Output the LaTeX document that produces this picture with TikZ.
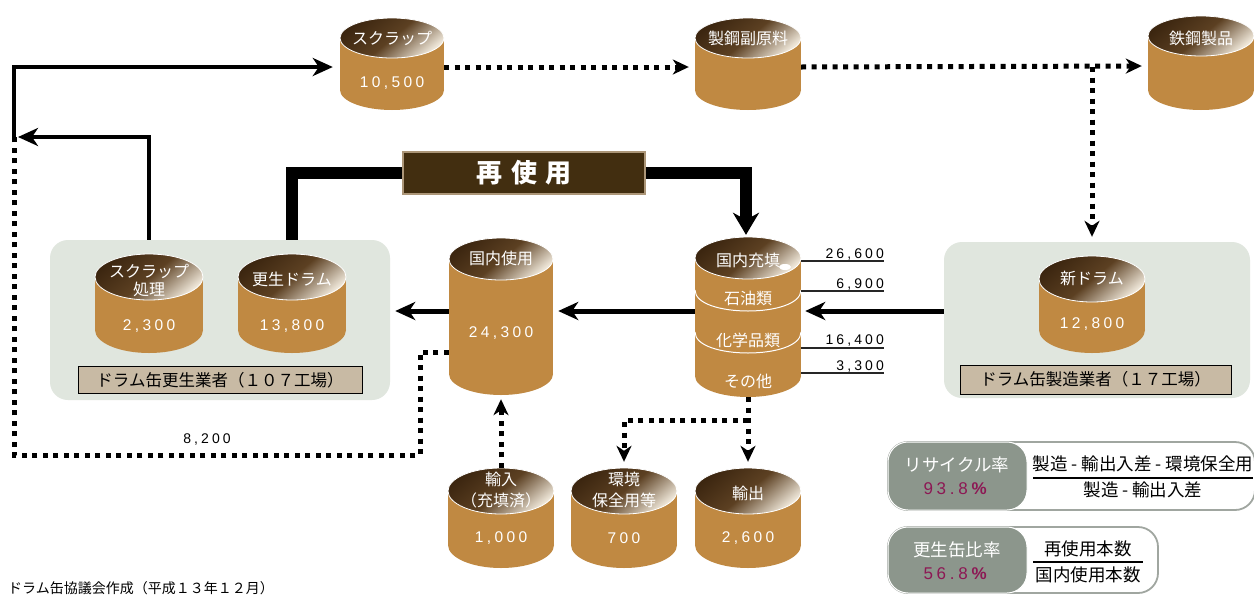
\documentclass[tikz,border=0pt]{standalone}
\usepackage{fontspec}
\setmainfont{Noto Sans CJK JP}
\newfontfamily\numf[LetterSpace=22]{Liberation Sans}
\usetikzlibrary{arrows.meta,calc}
\definecolor{drumbody}{RGB}{192,137,66}
\definecolor{topdark}{RGB}{60,38,16}
\definecolor{topmid}{RGB}{92,64,34}
\definecolor{toplight}{RGB}{238,230,216}
\definecolor{panelbg}{RGB}{224,230,222}
\definecolor{tanbox}{RGB}{200,186,164}
\definecolor{reusebg}{RGB}{66,46,16}
\definecolor{reuseedge}{RGB}{172,150,120}
\definecolor{greybox}{RGB}{140,150,140}
\definecolor{greyedge}{RGB}{160,166,160}
\definecolor{ratecol}{RGB}{140,24,84}
\tikzset{
  drumtopshade/.style={top color=topdark, bottom color=toplight, middle color=topmid, shading angle=40},
  dlbl/.style={text=white, font=\fontsize{16}{18}\selectfont, align=center, inner sep=0pt},
  dnum/.style={text=white, font=\numf\fontsize{15.5}{17}\selectfont, inner sep=0pt},
  anum/.style={text=black, font=\numf\fontsize{14}{16}\selectfont, inner sep=0pt},
  panel/.style={fill=panelbg, rounded corners=18pt, draw=none, inner sep=0pt},
  labelbox/.style={fill=tanbox, draw=black, line width=1pt, inner sep=0pt, font=\fontsize{16.5}{18}\selectfont},
  flow/.style={line width=5pt, -{Stealth[length=20pt,width=18pt,inset=6pt]}},
  flowthin/.style={line width=4.5pt, miter limit=10, -{Stealth[length=20pt,width=18pt,inset=6pt]}},
  solidline/.style={line width=4.5pt},
  dots/.style={line width=5pt, dash pattern=on 5pt off 5.5pt},
  dotarrow/.style={dots, -{Stealth[length=16pt,width=15pt,inset=5pt]}},
  reuseline/.style={line width=12pt},
  reusearrow/.style={line width=12pt, -{Stealth[length=22pt,width=26pt,inset=7pt]}},
  uline/.style={line width=1.2pt, draw=black!85},
  fbox/.style={fill=white, draw=greyedge, line width=1.8pt, rounded corners=20pt, inner sep=0pt},
  gbox/.style={fill=greybox, draw=white, line width=1pt, rounded corners=20pt, inner sep=0pt},
  gtext/.style={text=white, font=\fontsize{17.5}{19}\selectfont, inner sep=0pt},
  ratetext/.style={text=ratecol, font=\numf\fontsize{17}{19}\selectfont, inner sep=0pt},
  ftext/.style={text=black, font=\fontsize{17.5}{19}\selectfont, inner sep=0pt},
}
% #1 name, #2 cx, #3 top-centre y, #4 bottom-centre y, #5 rx, #6 ry
\newcommand\mydrum[6]{%
  \fill[drumbody] (#2-#5,#3) rectangle (#2+#5,#4);
  \fill[drumbody] (#2,#4) ellipse [x radius=#5pt, y radius=#6pt];
  \shade[drumtopshade] (#2,#3) ellipse [x radius=#5pt, y radius=#6pt];
  \draw[white, line width=0.8pt] (#2,#3) ellipse [x radius=#5pt, y radius=#6pt];
  \node[inner sep=0pt, minimum width={2*#5*1pt}, minimum height={(#4-#3+2*#6)*1pt}] (#1) at (#2,{(#3+#4)/2}) {};
}
\begin{document}
\begin{tikzpicture}[x=1pt,y=-1pt]
\useasboundingbox (0,0) rectangle (1254,595);
\fill[white] (0,0) rectangle (1254,595);

% panels
\node[panel, minimum width=340pt, minimum height=160pt] (kbox) at (220,320) {};
\node[panel, minimum width=306pt, minimum height=156pt] (mbox) at (1097,320) {};
\node[labelbox, minimum width=284pt, minimum height=27pt] (klbl) at (220,380) {ドラム缶更生業者（１０７工場）};
\node[labelbox, minimum width=271pt, minimum height=29pt] (mlbl) at (1095.5,379.5) {ドラム缶製造業者（１７工場）};

% drums
\mydrum{scrap}{392}{38}{90}{52}{20}
\mydrum{aux}{748}{38}{90}{53}{20}
\mydrum{steel}{1201}{36}{90}{53}{20}
\mydrum{sp}{149}{277}{330}{54}{23}
\mydrum{kd}{292}{277}{330}{54}{23}
\mydrum{dom}{501}{259}{374}{52}{21}
\mydrum{fill}{748}{258}{376}{53}{21}
\mydrum{new}{1092}{279}{330}{53}{23}
\mydrum{imp}{501}{491}{545}{53}{23}
\mydrum{env}{624}{491}{545}{53}{23}
\mydrum{exp}{748}{491}{545}{53}{23}

% dividers of the filling drum
\draw[white, line width=1pt] (695,290) .. controls (695,318) and (801,318) .. (801,290);
\draw[white, line width=1pt] (695,332) .. controls (695,360) and (801,360) .. (801,332);
\fill[white] (785,267) ellipse [x radius=6pt, y radius=3pt];

% drum labels
\node[dlbl] (tscrap) at (392,38) {スクラップ};
\node[dnum] (nscrap) at (392,83) {10,500};
\node[dlbl] (taux) at (748,38) {製鋼副原料};
\node[dlbl] (tsteel) at (1201,38) {鉄鋼製品};
\node[dlbl] (tsp) at (149,281) {スクラップ\\処理};
\node[dnum] (nsp) at (149,326) {2,300};
\node[dlbl] (tkd) at (292,279) {更生ドラム};
\node[dnum] (nkd) at (292,326) {13,800};
\node[dlbl] (tdom) at (501,258) {国内使用};
\node[dnum] (ndom) at (501,333) {24,300};
\node[dlbl] (tfill) at (748,260) {国内充填};
\node[dlbl] (toil) at (748,298) {石油類};
\node[dlbl] (tchem) at (748,340) {化学品類};
\node[dlbl] (toth) at (748,381) {その他};
\node[dlbl] (tnew) at (1092,278) {新ドラム};
\node[dnum] (nnew) at (1092,324) {12,800};
\node[dlbl] (timp) at (501,490) {輸入\\[3pt]（充填済）};
\node[dnum] (nimp) at (501,538) {1,000};
\node[dlbl] (tenv) at (624,490) {環境\\[3pt]保全用等};
\node[dnum] (nenv) at (624,538) {700};
\node[dlbl] (texp) at (748,493) {輸出};
\node[dnum] (nexp) at (748,538) {2,600};

% breakdown numbers
\node[anum, anchor=base east] (v1) at (884,258) {26,600};
\node[anum, anchor=base east] (v2) at (884,288) {6,900};
\node[anum, anchor=base east] (v3) at (884,344) {16,400};
\node[anum, anchor=base east] (v4) at (884,370) {3,300};
\coordinate (u1) at (884,261);
\coordinate (u2) at (884,291);
\coordinate (u3) at (884,348);
\coordinate (u4) at (884,373);
\draw[uline] (fill.east |- u1) -- (u1);
\draw[uline] (fill.east |- u2) -- (u2);
\draw[uline] (fill.east |- u3) -- (u3);
\draw[uline] (fill.east |- u4) -- (u4);

% main flow arrows
\coordinate (hflow) at (0,311);
\draw[flow] (mbox.west |- hflow) -- ($(fill.east |- hflow)+(4,0)$);
\draw[flow] (fill.west |- hflow) -- ($(dom.east |- hflow)+(5,0)$);
\draw[flow] (dom.west |- hflow) -- ($(kbox.east |- hflow)+(5,0)$);

% scrap loop
\coordinate (jn) at (14,137);
\draw[flowthin] (sp.north |- kbox.north) |- ($(jn)+(4,0)$);
\draw[flowthin] (jn) |- ($(scrap.west)+(-7,3)$);
\coordinate (d82) at (420,352);
\coordinate (c82) at (420,455);
\draw[dots] (dom.west |- d82) -- (d82) -- (c82) -- (c82 -| jn) -- (jn);
\node[anum] (l82) at (207,440) {8,200};

% top dotted flows
\draw[dotarrow] ($(scrap.east)+(0,3)$) -- ($(aux.west)+(-6,3)$);
\draw[dotarrow] ($(aux.east)+(0,3)$) -- ($(steel.west)+(-6,3)$);
\coordinate (br) at (1092,67);
\draw[dotarrow] (br) -- ($(br |- mbox.north)+(0,-5)$);

% bottom dotted flows
\draw[dotarrow] (imp.north) -- ($(dom.south)+(0,4)$);
\draw[dotarrow] (fill.south) -- ($(exp.north)+(0,-6)$);
\coordinate (br2) at (748,420);
\draw[dotarrow] (br2) -| ($(env.north)+(0,-6)$);

% reuse
\node[fill=reusebg, draw=reuseedge, line width=2pt, minimum width=242pt, minimum height=42pt, inner sep=0pt,
      text=white, font=\bfseries\fontsize{26}{28}\selectfont] (re) at (524,173) {再\hspace{9pt}使\hspace{9pt}用};
\draw[reuseline] (kd.north |- kbox.north) |- (re.west);
\draw[reusearrow] (re.east) -| ($(fill.north)+(-2,-2)$);

% rate boxes
\node[fbox, minimum width=367pt, minimum height=68pt] (f1) at (1071.5,476) {};
\node[gbox, minimum width=139pt, minimum height=68pt] (g1) at (957.5,476) {};
\node[gtext] (g1a) at (957,465) {リサイクル率};
\node[ratetext] (g1b) at (957,489) {93.8\textbf{\%}};
\node[ftext] (f1a) at (1143,464) {製造 - 輸出入差 - 環境保全用};
\node[ftext] (f1b) at (1143,490) {製造 - 輸出入差};
\draw[line width=1.5pt] (1033,478) -- (1253,478);

\node[fbox, minimum width=270pt, minimum height=66pt] (f2) at (1023,560) {};
\node[gbox, minimum width=139pt, minimum height=66pt] (g2) at (957.5,560) {};
\node[gtext] (g2a) at (957,550) {更生缶比率};
\node[ratetext] (g2b) at (957,574) {56.8\textbf{\%}};
\node[ftext] (f2a) at (1088,549) {再使用本数};
\node[ftext] (f2b) at (1088,575) {国内使用本数};
\draw[line width=1.5pt] (1033,562) -- (1143,562);

% caption
\node[anchor=west, inner sep=0pt, font=\fontsize{14}{16}\selectfont] (cap) at (8,588) {ドラム缶協議会作成（平成１３年１２月）};
\end{tikzpicture}
\end{document}
